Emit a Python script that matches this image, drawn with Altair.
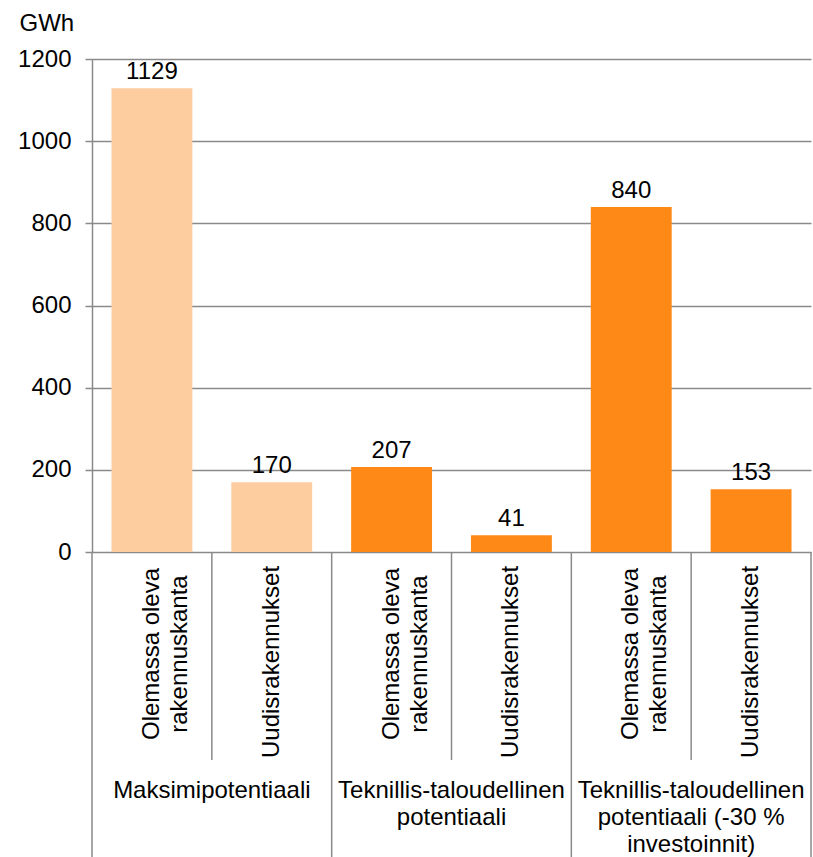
import altair as alt
import pandas as pd

# ---- data ----
keys = ["m_old", "m_new", "t_old", "t_new", "i_old", "i_new"]
values = [1129, 170, 207, 41, 840, 153]
item_kind = ["old", "new", "old", "new", "old", "new"]
item_text = {"old": "Olemassa oleva\nrakennuskanta", "new": "Uudisrakennukset"}
bar_colors = ["#FDCD9F", "#FDCD9F", "#FF8916", "#FF8916", "#FF8916", "#FF8916"]
group_keys = ["m_old", "t_old", "i_old"]
group_labels = [
    "Maksimipotentiaali",
    "Teknillis-taloudellinen\npotentiaali",
    "Teknillis-taloudellinen\npotentiaali (-30 %\ninvestoinnit)",
]
y_ticks = [0, 200, 400, 600, 800, 1000, 1200]

df = pd.DataFrame({
    "key": keys,
    "value": values,
    "kind": item_kind,
    "label": [item_text[k] for k in item_kind],
    "color": bar_colors,
})
gdf = pd.DataFrame({"key": group_keys, "group": group_labels})

FONT = "Liberation Sans"
FS = 24
GREY = "#8a8a8a"

xscale = alt.Scale(domain=keys, paddingInner=0, paddingOuter=0)

base = alt.Chart(df)

bars = base.mark_bar(width=alt.RelativeBandSize(0.675)).encode(
    x=alt.X("key:N", scale=xscale,
            axis=alt.Axis(labels=False, ticks=False, domain=True, domainColor=GREY,
                          domainWidth=1.5, title=None, grid=False)),
    y=alt.Y("value:Q", scale=alt.Scale(domain=[0, 1200], nice=False),
            axis=alt.Axis(values=y_ticks, format="d", grid=True, gridColor=GREY,
                          gridWidth=1.5, domainColor=GREY, domainWidth=1.5,
                          tickColor=GREY, tickWidth=1.5, tickSize=7, labelFont=FONT,
                          labelFontSize=FS, labelColor="black", labelPadding=14,
                          title="GWh", titleAngle=0, titleAlign="left",
                          titleBaseline="alphabetic", titleX=-73, titleY=-29,
                          titleFont=FONT, titleFontSize=FS, titleFontWeight="normal",
                          titleColor="black")),
    color=alt.Color("color:N", scale=None),
)

vlabels = base.mark_text(font=FONT, fontSize=FS, color="black", baseline="alphabetic",
                         dy=-9).encode(
    x=alt.X("key:N", scale=xscale, axis=None),
    y=alt.Y("value:Q"),
    text=alt.Text("value:Q"),
)

old_lbl = base.transform_filter(alt.datum.kind == "old").mark_text(
    font=FONT, fontSize=FS, color="black", angle=270, align="center",
    baseline="middle", lineBreak="\n", lineHeight=28).encode(
    x=alt.X("key:N", scale=xscale, axis=None),
    y=alt.value(595),
    text="label:N",
)
new_lbl = base.transform_filter(alt.datum.kind == "new").mark_text(
    font=FONT, fontSize=FS, color="black", angle=270, align="center",
    baseline="middle", lineBreak="\n", lineHeight=28).encode(
    x=alt.X("key:N", scale=xscale, axis=None),
    y=alt.value(603),
    text="label:N",
)

major = base.transform_filter(alt.datum.kind == "old").mark_rule(
    color=GREY, strokeWidth=1.5).encode(
    x=alt.X("key:N", scale=xscale, axis=None, bandPosition=0),
    y=alt.value(493), y2=alt.value(800),
)
minor = base.transform_filter(alt.datum.kind == "new").mark_rule(
    color=GREY, strokeWidth=1.5).encode(
    x=alt.X("key:N", scale=xscale, axis=None, bandPosition=0),
    y=alt.value(493), y2=alt.value(701),
)
end_rule = base.transform_filter(alt.datum.key == keys[-1]).mark_rule(
    color=GREY, strokeWidth=1.5).encode(
    x=alt.X("key:N", scale=xscale, axis=None, bandPosition=1),
    y=alt.value(493), y2=alt.value(800),
)

glabels = alt.Chart(gdf).mark_text(
    font=FONT, fontSize=FS, color="black", align="center", baseline="alphabetic",
    lineBreak="\n", lineHeight=27).encode(
    x=alt.X("key:N", scale=xscale, axis=None, bandPosition=1),
    y=alt.value(739),
    text="group:N",
)

chart = alt.layer(bars, vlabels, old_lbl, new_lbl, major, minor, end_rule, glabels).properties(
    width=719, height=493,
    autosize=alt.AutoSizeParams(type="none"),
    padding={"left": 92, "top": 59, "right": 2, "bottom": 305},
    background="white",
).configure_view(stroke=None)

chart.save("out.html", embed_options={"renderer": "svg", "actions": False})
